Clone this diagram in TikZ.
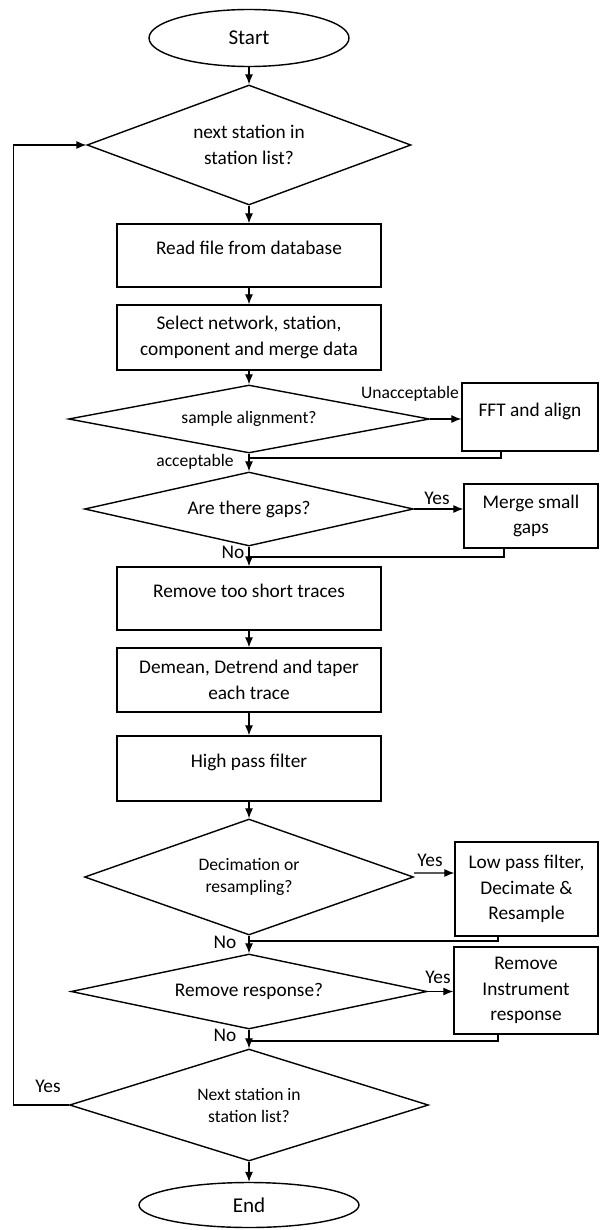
\documentclass[tikz,border=0pt]{standalone}
\usepackage{fontspec}
\setmainfont{Carlito}
\usetikzlibrary{shapes.geometric,arrows.meta}

\tikzset{
	procbox/.style={draw, line width=0.8pt, align=center, inner sep=0pt, font=\fontsize{11}{14.5}\selectfont},
	onebox/.style={procbox, text height=8pt, text depth=9pt},
	decision/.style={draw, diamond, line width=0.8pt, align=center, inner sep=0pt, font=\fontsize{11}{14.5}\selectfont},
	terminal/.style={draw, ellipse, line width=0.8pt, inner sep=0pt, font=\fontsize{12}{14}\selectfont},
	lbl/.style={inner sep=0pt, font=\fontsize{11}{13}\selectfont},
	flow/.style={line width=0.6pt, -{Latex[length=2mm,width=1.6mm]}},
	link/.style={line width=0.6pt}
}

\begin{document}
\begin{tikzpicture}[x=0.02cm,y=-0.02cm]
	\useasboundingbox (0,0) rectangle (600,1230);

	%	Main column
	\node[terminal, minimum width=4cm, minimum height=1.14cm] (start) at (249,38) {Start};
	\node[decision, aspect=2.7, minimum width=6.48cm, minimum height=2.4cm] (nextA) at (249,145) {next station in\\station list?};
	\node[onebox, minimum width=5.28cm, minimum height=1.26cm] (read) at (249,255.5) {Read file from database};
	\node[procbox, minimum width=5.28cm, minimum height=1.3cm] (select) at (249,337.5) {Select network, station,\\component and merge data};
	\node[decision, aspect=5.3, minimum width=7.22cm, minimum height=1.36cm, font=\fontsize{10}{13}\selectfont] (align) at (249,419) {sample alignment?};
	\node[decision, aspect=4.45, minimum width=6.58cm, minimum height=1.48cm] (gaps) at (249,509) {Are there gaps?};
	\node[onebox, minimum width=5.28cm, minimum height=1.26cm] (short) at (249,598.5) {Remove too short traces};
	\node[procbox, minimum width=5.28cm, minimum height=1.28cm] (demean) at (249,680) {Demean, Detrend and taper\\each trace};
	\node[onebox, minimum width=5.28cm, minimum height=1.3cm] (hipass) at (249,768.5) {High pass filter};
	\node[decision, aspect=2.84, minimum width=6.58cm, minimum height=2.32cm, font=\fontsize{10}{13}\selectfont] (decim) at (249,877) {Decimation or\\resampling?};
	\node[decision, aspect=4.75, minimum width=7.12cm, minimum height=1.5cm] (resp) at (249,991.5) {Remove response?};
	\node[decision, aspect=3.2, minimum width=7.18cm, minimum height=2.24cm, font=\fontsize{10}{12.5}\selectfont] (nextB) at (249,1105) {Next station in\\station list?};
	\node[terminal, minimum width=4.4cm, minimum height=0.9cm] (end) at (249,1205) {End};

	%	Side boxes
	\node[onebox, minimum width=2.72cm, minimum height=1.36cm] (fft) at (530,417) {FFT and align};
	\node[procbox, minimum width=2.68cm, minimum height=1.28cm] (merge) at (531,516) {Merge small\\gaps};
	\node[procbox, minimum width=2.86cm, minimum height=1.88cm] (lopass) at (526.5,889) {Low pass filter,\\Decimate \&\\Resample};
	\node[procbox, minimum width=2.88cm, minimum height=1.74cm] (instr) at (526,990.5) {Remove\\Instrument\\response};

	%	Join points on the main column
	\coordinate (joinA) at (249,458);
	\coordinate (joinB) at (249,557);
	\coordinate (joinC) at (249,941);
	\coordinate (joinD) at (249,1041);

	%	Arrows down the column
	\draw[flow] (start) -- (nextA);
	\draw[flow] (nextA) -- (read);
	\draw[flow] (read) -- (select);
	\draw[flow] (select) -- (align);
	\draw[flow] (align) -- (gaps);
	\draw[flow] (gaps) -- (short);
	\draw[flow] (short) -- (demean);
	\draw[flow] (demean) -- (hipass);
	\draw[flow] (hipass) -- (decim);
	\draw[flow] (decim) -- (resp);
	\draw[flow] (resp) -- (nextB);
	\draw[flow] (nextB) -- (end);

	%	Branches to the right
	\draw[flow] (align.east) -- (align.east -| fft.west);
	\draw[flow] (gaps.east) -- (gaps.east -| merge.west);
	\draw[flow] (decim.east) ++(0,-4) -- ([yshift=0.08cm]decim.east -| lopass.west);
	\draw[flow] (resp.east) -- (resp.east -| instr.west);

	%	Returns to the column
	\draw[link] (fft.south) ++(-29,0) |- (joinA);
	\draw[link] (merge.south) ++(-27,0) |- (joinB);
	\draw[link] (lopass.south) ++(-28.5,0) |- (joinC);
	\draw[link] (instr.south) ++(-28,0) |- (joinD);

	%	Loop back
	\draw[flow] (nextB.west) -- ++(-55,0) |- (nextA.west);

	%	Labels
	\node[lbl, font=\fontsize{10}{12}\selectfont] (unacc) at (410,394) {Unacceptable};
	\node[lbl, font=\fontsize{10}{12}\selectfont] (acc) at (195,462) {acceptable};
	\node[lbl] (yesA) at (437,498) {Yes};
	\node[lbl] (noA) at (233,552) {No};
	\node[lbl] (yesB) at (430,860) {Yes};
	\node[lbl] (noB) at (225,942) {No};
	\node[lbl] (yesC) at (438,977) {Yes};
	\node[lbl] (noC) at (225,1035) {No};
	\node[lbl] (yesD) at (48,1086) {Yes};
\end{tikzpicture}
\end{document}
